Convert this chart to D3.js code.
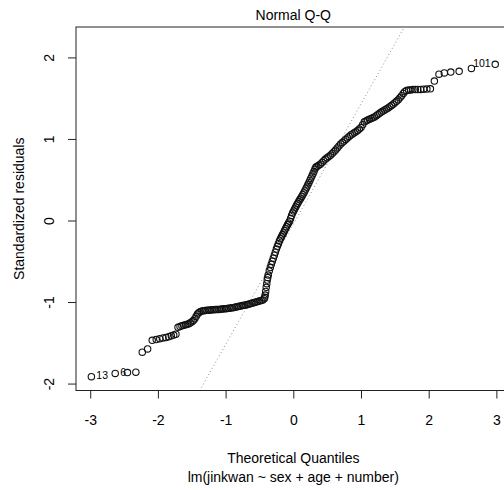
<!DOCTYPE html>
<html><head><meta charset="utf-8">
<script src="https://cdn.jsdelivr.net/npm/d3@7"></script>
<style>
body{margin:0;background:#fff}
svg{display:block}
text{font-family:"Liberation Sans",Arial,sans-serif;fill:#000}
</style>
</head><body>
<svg id="c" width="504" height="490"></svg>
<script>
// Theoretical quantiles (x) and standardized residuals (y)
const theoQ = [
-2.983,-2.631,-2.450,-2.326,-2.231,-2.152,-2.084,-2.025,-1.973,-1.925,-1.881,-1.840,-1.802,-1.767,-1.734,
-1.703,-1.673,-1.645,-1.618,-1.592,-1.567,-1.543,-1.520,-1.497,-1.476,-1.455,-1.434,-1.415,-1.396,-1.377,
-1.350,-1.325,-1.300,-1.275,-1.250,-1.225,-1.200,-1.175,-1.150,-1.125,-1.100,-1.075,-1.050,-1.025,-1.000,
-0.975,-0.950,-0.925,-0.900,-0.875,-0.850,-0.825,-0.800,-0.775,-0.750,-0.725,-0.700,-0.675,-0.650,-0.625,
-0.600,-0.575,-0.550,-0.525,-0.500,-0.475,-0.450,
-0.430,-0.422,-0.415,-0.408,-0.400,-0.392,-0.385,-0.378,-0.370,-0.355,-0.340,-0.325,-0.310,-0.295,-0.280,
-0.265,-0.250,-0.235,-0.220,-0.205,-0.190,-0.175,-0.160,-0.145,-0.130,-0.115,-0.100,-0.085,-0.070,-0.055,
-0.040,-0.025,-0.010,0.005,0.020,0.035,0.050,0.065,0.080,0.095,0.110,0.125,0.140,0.155,0.170,0.185,
0.200,0.215,0.230,0.245,0.260,0.275,0.290,0.305,0.320,0.335,
0.350,0.375,0.400,0.425,0.450,0.475,0.500,0.525,0.550,0.575,0.600,0.625,0.650,0.675,0.700,0.725,
0.750,0.775,0.800,0.825,0.850,0.875,0.900,0.925,0.950,0.975,1.000,1.025,1.050,1.075,1.100,1.125,
1.150,1.175,1.200,1.225,1.250,1.275,1.300,1.325,1.350,1.375,1.400,1.425,1.450,1.475,1.500,1.525,
1.550,1.575,1.600,1.625,1.645,
1.673,1.703,1.734,1.767,1.802,1.840,1.881,1.925,1.973,2.025,
2.084,2.152,2.231,2.326,2.450,2.631,2.983
];
const stdRes = [
-1.915,-1.875,-1.865,-1.860,-1.615,-1.575,-1.470,-1.460,-1.450,-1.440,-1.435,-1.425,-1.415,-1.405,-1.395,
-1.310,-1.300,-1.292,-1.285,-1.280,-1.272,-1.265,-1.255,-1.243,-1.228,-1.205,-1.175,-1.148,-1.132,-1.120,
-1.110,-1.107,-1.105,-1.102,-1.100,-1.098,-1.095,-1.094,-1.093,-1.092,-1.091,-1.089,-1.086,-1.083,-1.081,
-1.078,-1.075,-1.073,-1.070,-1.066,-1.061,-1.057,-1.053,-1.048,-1.044,-1.040,-1.035,-1.029,-1.023,-1.018,
-1.012,-1.006,-1.000,-0.994,-0.988,-0.981,-0.975,
-0.960,-0.940,-0.915,-0.870,-0.820,-0.775,-0.730,-0.700,-0.670,-0.617,-0.577,-0.537,-0.500,-0.462,-0.425,
-0.388,-0.350,-0.317,-0.284,-0.251,-0.224,-0.200,-0.176,-0.152,-0.126,-0.101,-0.076,-0.053,-0.030,-0.008,
0.025,0.062,0.091,0.115,0.140,0.165,0.190,0.211,0.232,0.253,0.274,0.295,0.316,0.338,0.362,0.386,
0.410,0.437,0.464,0.491,0.518,0.545,0.572,0.600,0.630,0.655,
0.661,0.676,0.690,0.711,0.733,0.753,0.769,0.784,0.800,0.821,0.843,0.864,0.890,0.915,0.938,0.956,
0.975,0.994,1.013,1.031,1.050,1.062,1.075,1.087,1.104,1.122,1.140,1.175,1.210,1.221,1.231,1.242,
1.251,1.261,1.270,1.285,1.300,1.315,1.330,1.342,1.355,1.367,1.380,1.396,1.411,1.427,1.444,1.462,
1.480,1.505,1.530,1.558,1.580,
1.595,1.600,1.600,1.605,1.605,1.607,1.608,1.610,1.612,1.615,
1.710,1.795,1.810,1.820,1.830,1.865,1.915
];
const xTicks = [-3,-2,-1,0,1,2,3];
const yTicks = [-2,-1,0,1,2];
const idLabels = ["13","6","101"];
const idPoints = [0,1,theoQ.length-1];
const idSide = ["right","right","left"];
const qqSlope = 1.475, qqIntercept = -0.046;
const titleText = "Normal Q-Q";
const xLabel = "Theoretical Quantiles";
const subLabel = "lm(jinkwan ~ sex + age + number)";
const yLabel = "Standardized residuals";

const svg = d3.select("#c");
const L = 76, T = 27, B = 390.5, R = 510.6;
const x = d3.scaleLinear().domain([-3.21,3.21]).range([L,R]);
const y = d3.scaleLinear().domain([-2.085,2.373]).range([B,T]);
const FS = 14;

svg.append("defs").append("clipPath").attr("id","pc")
  .append("rect").attr("x",L).attr("y",T).attr("width",R-L).attr("height",B-T);

// qq line
const xl = x.domain();
svg.append("line").attr("clip-path","url(#pc)")
  .attr("x1",x(xl[0])).attr("y1",y(qqIntercept+qqSlope*xl[0]))
  .attr("x2",x(xl[1])).attr("y2",y(qqIntercept+qqSlope*xl[1]))
  .attr("stroke","#8a8a8a").attr("stroke-width",1).attr("stroke-dasharray","1,2.6");

// points
const pts = theoQ.map((v,i)=>({x:v,y:stdRes[i]}));
svg.append("g").selectAll("circle").data(pts).join("circle")
  .attr("cx",d=>x(d.x)).attr("cy",d=>y(d.y)).attr("r",3.2)
  .attr("fill","none").attr("stroke","#111").attr("stroke-width",1.1);

// id labels
svg.append("g").selectAll("text").data(idPoints).join("text")
  .attr("x",(d,i)=>idSide[i]==="right"? x(theoQ[d])+5 : x(theoQ[d])-4.5)
  .attr("y",d=>y(stdRes[d])+2.5)
  .attr("text-anchor",(d,i)=>idSide[i]==="right"?"start":"end")
  .attr("font-size",10.5)
  .text((d,i)=>idLabels[i]);

// box
svg.append("rect").attr("x",L).attr("y",T).attr("width",R-L).attr("height",B-T)
  .attr("fill","none").attr("stroke","#222").attr("stroke-width",1);

// x axis
const gx = svg.append("g").attr("transform",`translate(0,${B})`)
  .call(d3.axisBottom(x).tickValues(xTicks).tickSize(8).tickFormat(d3.format("d")));
gx.select(".domain").remove();
gx.selectAll("line").attr("stroke","#222");
gx.selectAll("text").attr("y",34.5).attr("dy",0).attr("font-size",FS)
  .attr("font-family","Liberation Sans, Arial, sans-serif").attr("fill","#000")
  .text(d=>d<0?"-"+Math.abs(d):d);

// y axis
const gy = svg.append("g").attr("transform",`translate(${L},0)`)
  .call(d3.axisLeft(y).tickValues(yTicks).tickSize(8));
gy.select(".domain").remove();
gy.selectAll("line").attr("stroke","#222");
gy.selectAll("text").attr("x",0).attr("y",0).attr("dy",0)
  .attr("transform","translate(-22.5,0) rotate(-90)")
  .attr("text-anchor","middle").attr("font-size",FS)
  .attr("font-family","Liberation Sans, Arial, sans-serif").attr("fill","#000")
  .text(d=>d<0?"-"+Math.abs(d):d);

// titles
const cx = (L+R)/2;
svg.append("text").attr("x",cx).attr("y",19.5).attr("text-anchor","middle").attr("font-size",FS).text(titleText);
svg.append("text").attr("x",cx).attr("y",462.5).attr("text-anchor","middle").attr("font-size",FS).text(xLabel);
svg.append("text").attr("x",cx).attr("y",481.5).attr("text-anchor","middle").attr("font-size",FS).text(subLabel);
svg.append("text").attr("transform",`translate(23.5,${(T+B)/2}) rotate(-90)`)
  .attr("text-anchor","middle").attr("font-size",FS).text(yLabel);
</script>
</body></html>
